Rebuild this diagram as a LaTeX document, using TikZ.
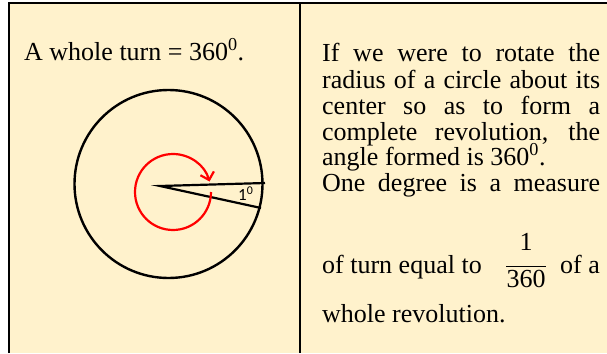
\documentclass[tikz,border=0pt]{standalone}
\usepackage{fontspec}
\setmainfont{Liberation Serif}
\newfontfamily\labelfont{Carlito}
\usetikzlibrary{arrows.meta}
\definecolor{cream}{HTML}{FFF2CC}

\begin{document}
\begin{tikzpicture}[x=1pt,y=-1pt,
  txt/.style={anchor=base west,inner sep=0pt,font=\fontsize{26}{26}\selectfont},
  num/.style={anchor=base,inner sep=0pt,font=\fontsize{26}{26}\selectfont}]
\useasboundingbox (0,0) rectangle (607,353);

% Table cells
\fill[cream] (8.7,2.8) rectangle (607,353);
\draw[line width=2.4pt] (8.7,353) -- (8.7,2.8) -- (607,2.8);
\draw[line width=2.4pt] (300,2.8) -- (300,353);

% Left cell
\node[txt] (whole) at (24,60) {A whole turn = 360\textsuperscript{0}.};

% Circle and the angle of one degree
\coordinate (O) at (168.5,184);
\coordinate (V) at (160,186);
\coordinate (A) at (265,183);
\coordinate (B) at (261,208);
\draw[line width=2.4pt] (O) circle[radius=94];
\draw[line width=2.2pt] (A) -- (V) -- (B);
\node[anchor=base west,inner sep=0pt,font=\labelfont\fontsize{17}{17}\selectfont]
  (deg) at (238,200.5) {1\textsuperscript{0}};

% Turning arrow
\coordinate (C) at (173,192);
\draw[red,line width=2.2pt,-{Straight Barb[length=7pt,width=14pt]}]
  ([shift={(38,0)}]C) arc[start angle=0,end angle=344,radius=38];

% Right cell
\node[txt] (r1) at (322,62) {\makebox[278pt][s]{If we were to rotate the}};
\node[txt] (r2) at (322,88) {\makebox[278pt][s]{radius of a circle about its}};
\node[txt] (r3) at (322,114) {\makebox[278pt][s]{center so as to form a}};
\node[txt] (r4) at (322,140) {\makebox[278pt][s]{complete revolution, the}};
\node[txt] (r5) at (322,165) {angle formed is 360\textsuperscript{0}.};
\node[txt] (r6) at (322,191) {\makebox[278pt][s]{One degree is a measure}};
\node[txt] (r7) at (322,273) {of turn equal to};
\node[txt,anchor=base east] (r7b) at (600,273) {of a};
\node[num] (top) at (526,250) {1};
\node[num] (bot) at (526,287) {360};
\draw[line width=1.2pt] ([yshift=3pt]bot.north west) -- ([yshift=3pt]bot.north east);
\node[txt] (r8) at (322,322) {whole revolution.};

\end{tikzpicture}
\end{document}
